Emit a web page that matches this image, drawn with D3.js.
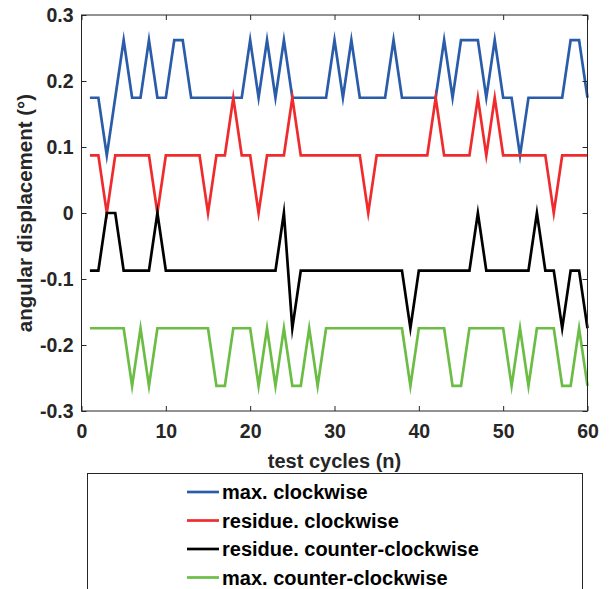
<!DOCTYPE html>
<html><head><meta charset="utf-8">
<script src="https://cdn.jsdelivr.net/npm/d3@7"></script>
<style>body{margin:0;background:#fff;} svg{display:block;font-family:"Liberation Sans",Arial,sans-serif;}</style>
</head><body>
<svg id="c" width="613" height="589"></svg>
<script>
const L = 0.0873;
const cycles = d3.range(1, 61);
// values in units of L (level index)
const maxCW = [2,2,1,2,3,2,2,3,2,2,3,3,2,2,2,2,2,2,2,3,2,3,2,3,2,2,2,2,2,3,2,3,2,2,2,2,3,2,2,2,2,2,3,2,3,3,3,2,3,2,2,1,2,2,2,2,2,3,3,2];
const resCW = [1,1,0,1,1,1,1,1,0,1,1,1,1,1,0,1,1,2,1,1,0,1,1,1,2,1,1,1,1,1,1,1,1,0,1,1,1,1,1,1,1,2,1,1,1,1,2,1,2,1,1,1,1,1,1,0,1,1,1,1];
const resCCW = [-1,-1,0,0,-1,-1,-1,-1,0,-1,-1,-1,-1,-1,-1,-1,-1,-1,-1,-1,-1,-1,-1,0,-2,-1,-1,-1,-1,-1,-1,-1,-1,-1,-1,-1,-1,-1,-2,-1,-1,-1,-1,-1,-1,-1,0,-1,-1,-1,-1,-1,-1,0,-1,-1,-2,-1,-1,-2];
const maxCCW = [-2,-2,-2,-2,-2,-3,-2,-3,-2,-2,-2,-2,-2,-2,-2,-3,-3,-2,-2,-2,-3,-2,-3,-2,-3,-3,-2,-3,-2,-2,-2,-2,-2,-2,-2,-2,-2,-2,-3,-2,-2,-2,-2,-3,-3,-2,-2,-2,-2,-2,-3,-2,-3,-2,-2,-2,-3,-3,-2,-3];
const seriesNames = ["max. clockwise","residue. clockwise","residue. counter-clockwise","max. counter-clockwise"];
const seriesColors = ["#2a5caa","#ef2b2d","#000000","#6cbd45"];
const xTicks = [0,10,20,30,40,50,60];
const yTicks = [-0.3,-0.2,-0.1,0,0.1,0.2,0.3];
const yTickLabels = ["-0.3","-0.2","-0.1","0","0.1","0.2","0.3"];
const allSeries = [maxCW,resCW,resCCW,maxCCW];

const svg = d3.select("#c");
const m = {l:81.5, r:587.5, t:15, b:411};
const x = d3.scaleLinear().domain([0,60]).range([m.l,m.r]);
const y = d3.scaleLinear().domain([-0.3,0.3]).range([m.b,m.t]);
const axColor = "#262626";

const line = d3.line().x((d,i)=>x(cycles[i])).y(d=>y(d*L));
allSeries.forEach((s,k)=>{
  svg.append("path").datum(s).attr("d",line).attr("fill","none")
    .attr("stroke",seriesColors[k]).attr("stroke-width",2.7).attr("stroke-linejoin","miter").attr("stroke-miterlimit",10);
});

// box
svg.append("rect").attr("x",m.l).attr("y",m.t).attr("width",m.r-m.l).attr("height",m.b-m.t)
  .attr("fill","none").attr("stroke",axColor).attr("stroke-width",1);

const gx = svg.append("g").attr("transform",`translate(0,${m.b})`)
  .call(d3.axisBottom(x).tickValues(xTicks).tickSize(-5).tickPadding(13).tickFormat(d3.format("d")));
const gxt = svg.append("g").attr("transform",`translate(0,${m.t})`)
  .call(d3.axisTop(x).tickValues(xTicks).tickSize(-5).tickFormat(""));
const gy = svg.append("g").attr("transform",`translate(${m.l},0)`)
  .call(d3.axisLeft(y).tickValues(yTicks).tickSize(-5).tickPadding(8).tickFormat((d,i)=>yTickLabels[i]));
const gyr = svg.append("g").attr("transform",`translate(${m.r},0)`)
  .call(d3.axisRight(y).tickValues(yTicks).tickSize(-5).tickFormat(""));
[gx,gxt,gy,gyr].forEach(g=>{
  g.select(".domain").remove();
  g.selectAll("line").attr("stroke",axColor);
  g.selectAll("text").attr("fill",axColor).attr("font-size",19.5).attr("font-weight","bold")
   .attr("font-family","'Liberation Sans',Arial,sans-serif");
});

svg.append("text").attr("x",(m.l+m.r)/2).attr("y",468).attr("text-anchor","middle")
  .attr("font-size",20).attr("font-weight","bold").attr("fill",axColor).text("test cycles (n)");
svg.append("text").attr("transform",`translate(32,${(m.t+m.b)/2}) rotate(-90)`).attr("text-anchor","middle")
  .attr("font-size",20.5).attr("font-weight","bold").attr("fill",axColor).text("angular displacement (°)");

// legend
const lg = svg.append("g");
lg.append("rect").attr("x",87.5).attr("y",473.5).attr("width",495).attr("height",130)
  .attr("fill","#fff").attr("stroke",axColor).attr("stroke-width",1);
seriesNames.forEach((n,k)=>{
  const yy = 492 + k*28.5;
  lg.append("line").attr("x1",187).attr("x2",219).attr("y1",yy).attr("y2",yy)
    .attr("stroke",seriesColors[k]).attr("stroke-width",2.7);
  lg.append("text").attr("x",222).attr("y",yy+7).attr("font-size",20).attr("font-weight","bold")
    .attr("fill","#000").text(n);
});
</script>
</body></html>
